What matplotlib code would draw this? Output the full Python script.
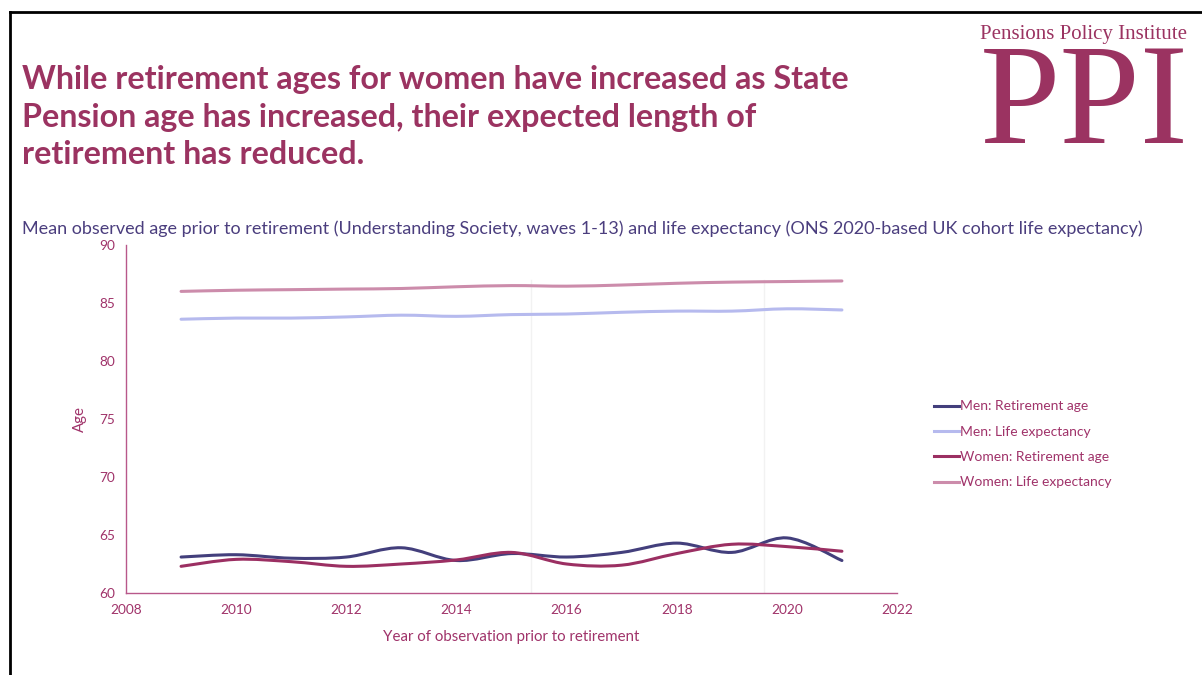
import numpy as np
import matplotlib
matplotlib.use('Agg')
import matplotlib.pyplot as plt
from matplotlib.path import Path
from matplotlib.patches import PathPatch
from matplotlib.lines import Line2D

# ---- data -----------------------------------------------------------------------
years = [2009, 2010, 2011, 2012, 2013, 2014, 2015, 2016, 2017, 2018, 2019, 2020, 2021]
men_ret = [63.1, 63.3, 63.0, 63.1, 63.9, 62.8, 63.4, 63.1, 63.5, 64.3, 63.5, 64.75, 62.8]
men_le = [83.6, 83.7, 83.7, 83.8, 83.95, 83.85, 84.0, 84.05, 84.2, 84.3, 84.3, 84.5, 84.4]
women_ret = [62.3, 62.9, 62.7, 62.3, 62.5, 62.85, 63.5, 62.5, 62.4, 63.4, 64.2, 64.0, 63.6]
women_le = [86.0, 86.1, 86.15, 86.2, 86.25, 86.4, 86.5, 86.45, 86.55, 86.7, 86.8, 86.85, 86.9]
labels = ['Men: Retirement age', 'Men: Life expectancy',
          'Women: Retirement age', 'Women: Life expectancy']
colors = ['#433f7c', '#b6baee', '#9b2f62', '#cc8cab']
xticks = [2008, 2010, 2012, 2014, 2016, 2018, 2020, 2022]
yticks = [60, 65, 70, 75, 80, 85, 90]

TXT = '#a0336a'
AXC = '#b8588a'
plt.rcParams['font.family'] = ['Lato', 'DejaVu Sans']


def smooth_path(xs, ys):
    # Excel-style smoothed line: cubic Bezier through the points
    p = np.column_stack([xs, ys]).astype(float)
    verts, codes = [p[0]], [Path.MOVETO]
    for i in range(len(p) - 1):
        p0 = p[i - 1] if i > 0 else p[i]
        p3 = p[i + 2] if i + 2 < len(p) else p[i + 1]
        c1 = p[i] + (p[i + 1] - p0) / 6
        c2 = p[i + 1] - (p3 - p[i]) / 6
        verts += [c1, c2, p[i + 1]]
        codes += [Path.CURVE4] * 3
    return Path(verts, codes)


fig = plt.figure(figsize=(12.02, 6.75), dpi=100)
W, H = 1202, 675
ax = fig.add_axes([126 / W, 1 - 593 / H, (897 - 126) / W, (593 - 245) / H])

for s in [2015.36, 2019.58]:
    ax.axvline(s, ymin=0, ymax=0.9, color='#f2f2f2', lw=1, zorder=0)

for ys, c in zip([men_ret, men_le, women_ret, women_le], colors):
    ax.add_patch(PathPatch(smooth_path(years, ys), fill=False, edgecolor=c, lw=2.2,
                           capstyle='round'))

ax.set_xlim(2008, 2022)
ax.set_ylim(60, 90)
ax.set_xticks(xticks)
ax.set_yticks(yticks)
ax.tick_params(length=0, colors=TXT, labelsize=9.8, pad=8)
for side in ['top', 'right']:
    ax.spines[side].set_visible(False)
for side in ['left', 'bottom']:
    ax.spines[side].set_color(AXC)
    ax.spines[side].set_linewidth(1.0)
ax.set_xlabel('Year of observation prior to retirement', color=TXT, fontsize=10.8, labelpad=10)
ax.set_ylabel('Age', color=TXT, fontsize=10.8, labelpad=9)

handles = [Line2D([], [], color=c, lw=2.2) for c in colors]
fig.legend(handles, labels, loc='upper left', bbox_to_anchor=(921 / W, 1 - 388 / H),
           frameon=False, fontsize=10, handlelength=1.8, handletextpad=0.1,
           labelspacing=0.96, labelcolor=TXT)

# ---- texts -----------------------------------------------------------------------
fig.text(22 / W, 1 - 65 / H,
         'While retirement ages for women have increased as State\n'
         'Pension age has increased, their expected length of\n'
         'retirement has reduced.',
         color='#9b3361', fontsize=23.2, fontweight='bold', va='top', linespacing=1.36)
fig.text(22 / W, 1 - 229 / H,
         'Mean observed age prior to retirement (Understanding Society, waves 1-13) and '
         'life expectancy (ONS 2020-based UK cohort life expectancy)',
         color='#4b3e7e', fontsize=13.0, va='center')
fig.text(1084 / W, 1 - 35 / H, 'Pensions Policy Institute', color='#9b3361',
         fontsize=15, family='Liberation Serif', ha='center', va='center')
fig.text(1084 / W, 1 - 143 / H, 'PPI', color='#9b3361', fontsize=104,
         family='Liberation Serif', ha='center', va='baseline')

# frame
fig.add_artist(Line2D([10 / W, 1], [1 - 12 / H, 1 - 12 / H], color='black', lw=2))
fig.add_artist(Line2D([10 / W, 10 / W], [0, 1 - 12 / H], color='black', lw=2))

fig.savefig('out.png', dpi=100, facecolor='white')
